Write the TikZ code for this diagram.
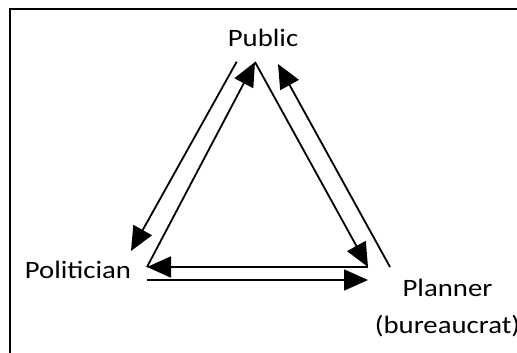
\documentclass[tikz,border=0pt]{standalone}
\usepackage{fontspec}
\setmainfont{Carlito}[FakeStretch=1.15]
\usetikzlibrary{arrows.meta}

\tikzset{
  flow/.style={line width=1.8pt, -{Triangle[length=24pt,width=21pt]}},
  actor/.style={font=\fontsize{25}{37}\selectfont, inner sep=0pt, anchor=base}
}

\begin{document}
\begin{tikzpicture}[x=1pt,y=-1pt]
    \useasboundingbox (0,0) rectangle (517,353);
    \draw[line width=2pt] (9.5,9.5) rectangle (530,365);

    % actors
    \node[actor] (public) at (263,46.7) {Public};
    \node[actor] (politician) at (78,278.3) {Politician};
    \node[actor, align=center] (planner) at (447.5,333.5) {Planner\\(bureaucrat)};

    % line ends
    \coordinate (pubL) at (236.7,61.7);
    \coordinate (pubM) at (255,62);
    \coordinate (pubR) at (278,64);
    \coordinate (polT) at (131,251);
    \coordinate (polM) at (147,267);
    \coordinate (polB) at (147,280);
    \coordinate (plaM) at (368,267);
    \coordinate (plaB) at (368,280);
    \coordinate (plaR) at (390,267);

    % flows
    \draw[flow] (pubL) -- (polT);
    \draw[flow] (polM) -- (pubM);
    \draw[flow] (pubM) -- (plaM);
    \draw[flow] (plaR) -- (pubR);
    \draw[flow] (plaM) -- (polM);
    \draw[flow] (polB) -- (plaB);
\end{tikzpicture}
\end{document}
